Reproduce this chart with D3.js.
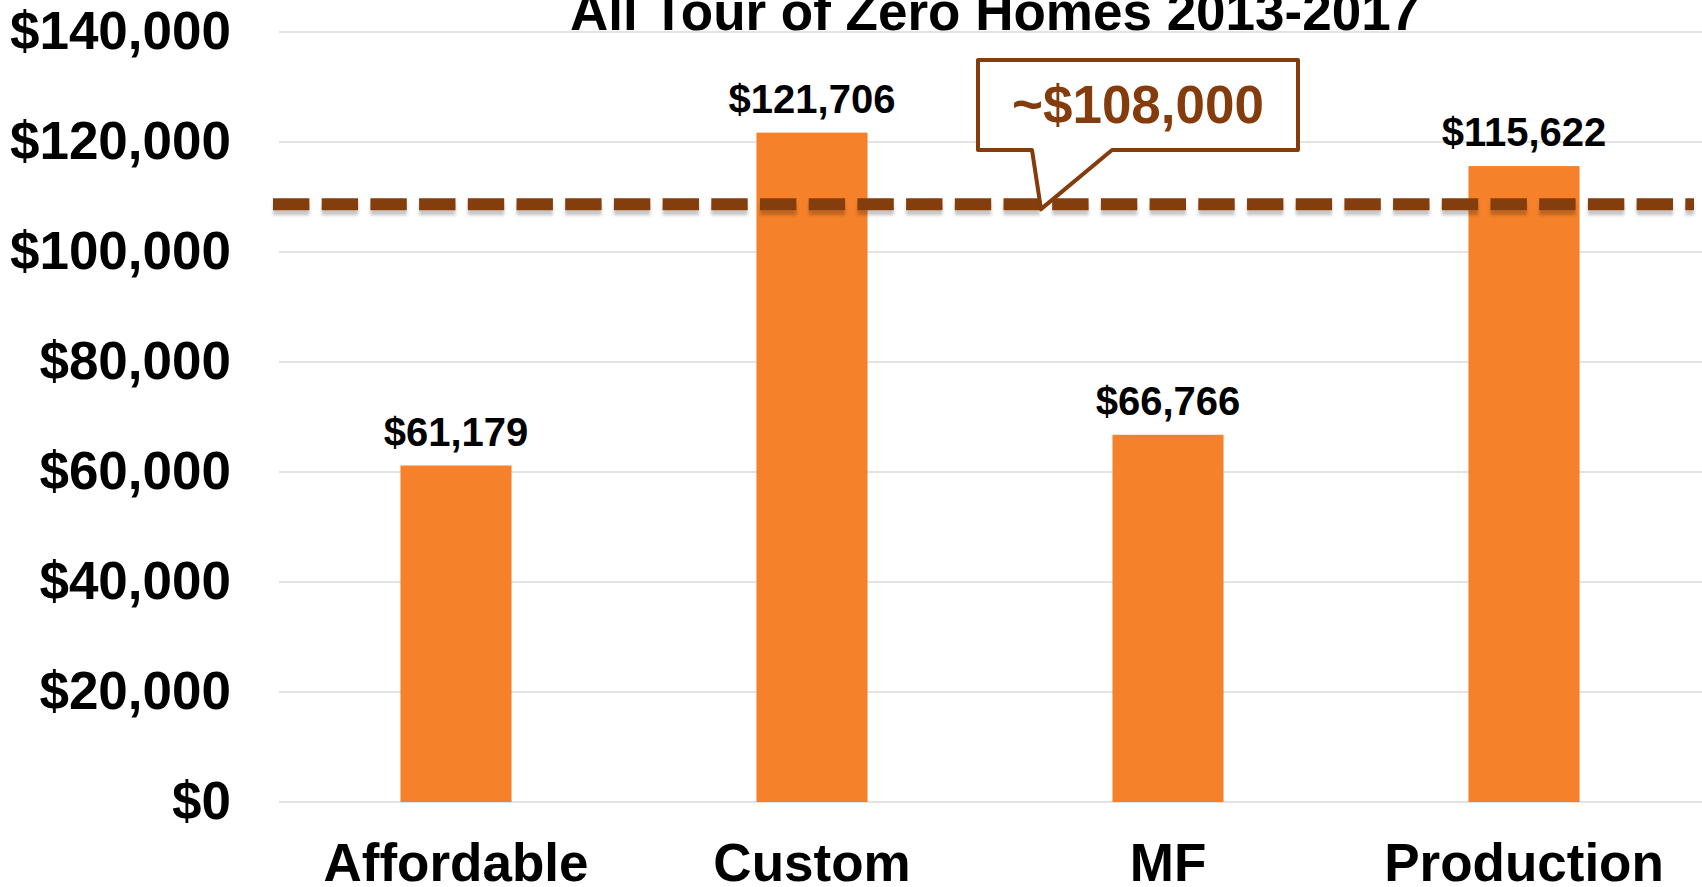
<!DOCTYPE html>
<html>
<head>
<meta charset="utf-8">
<script src="https://cdn.jsdelivr.net/npm/d3@7"></script>
<style>
  html, body { margin: 0; padding: 0; background: #fff; }
  svg { display: block; font-family: "Liberation Sans", Arial, sans-serif; font-weight: bold; }
</style>
</head>
<body>
<svg id="chart" width="1702" height="887"></svg>
<script>
// data
var categories = ['Affordable', 'Custom', 'MF', 'Production'];
var costs = [61179, 121706, 66766, 115622];
var yTicks = [0, 20000, 40000, 60000, 80000, 100000, 120000, 140000];
var averageCost = 108700;
var averageLabel = '~$108,000';
var title = 'All Tour of Zero Homes 2013-2017';

var width = 1702, height = 887;
var barColor = '#F5812A', lineColor = '#843C0C';

var svg = d3.select('#chart');

var x = d3.scaleBand()
    .domain(categories)
    .range([278, 1702])
    .paddingInner(0.688)
    .paddingOuter(0.344);

var y = d3.scaleLinear()
    .domain([0, 140000])
    .range([802, 32]);

var money = function(v) { return '$' + d3.format(',')(v); };

// shadow for the average line (user space, a flat line has no bbox height)
var defs = svg.append('defs');
var shadow = defs.append('filter')
    .attr('id', 'shadow')
    .attr('filterUnits', 'userSpaceOnUse')
    .attr('x', 0).attr('y', 0)
    .attr('width', width).attr('height', height);
shadow.append('feDropShadow')
    .attr('dx', 0).attr('dy', 5)
    .attr('stdDeviation', 1.6)
    .attr('flood-color', '#000')
    .attr('flood-opacity', 0.22);

// gridlines
svg.append('g')
    .selectAll('line')
    .data(yTicks)
    .enter().append('line')
    .attr('x1', 279)
    .attr('x2', width)
    .attr('y1', function(d) { return y(d); })
    .attr('y2', function(d) { return y(d); })
    .attr('stroke', '#e3e3e3')
    .attr('stroke-width', 2);

// y axis labels
var yAxis = svg.append('g')
    .attr('transform', 'translate(231,0)')
    .call(d3.axisLeft(y).tickValues(yTicks).tickSize(0).tickPadding(0).tickFormat(money));
yAxis.select('.domain').remove();
yAxis.selectAll('text')
    .attr('fill', '#000')
    .style('font-size', '53px')
    .style('font-family', '"Liberation Sans", Arial, sans-serif')
    .style('font-weight', 'bold');

// x axis labels
var xAxis = svg.append('g')
    .attr('transform', 'translate(0,802)')
    .call(d3.axisBottom(x).tickSize(0).tickPadding(0));
xAxis.select('.domain').remove();
xAxis.selectAll('text')
    .attr('dy', null)
    .attr('y', 79)
    .attr('fill', '#000')
    .style('font-size', '53px')
    .style('font-family', '"Liberation Sans", Arial, sans-serif')
    .style('font-weight', 'bold');

// bars
svg.append('g')
    .selectAll('rect')
    .data(costs)
    .enter().append('rect')
    .attr('x', function(d, i) { return x(categories[i]); })
    .attr('y', function(d) { return y(d); })
    .attr('width', x.bandwidth())
    .attr('height', function(d) { return y(0) - y(d); })
    .attr('fill', barColor);

// value labels
svg.append('g')
    .selectAll('text')
    .data(costs)
    .enter().append('text')
    .attr('x', function(d, i) { return x(categories[i]) + x.bandwidth() / 2; })
    .attr('y', function(d) { return y(d) - 20; })
    .attr('text-anchor', 'middle')
    .attr('font-size', 40)
    .attr('fill', '#000')
    .text(money);

// average line
var avgY = y(averageCost);
svg.append('line')
    .attr('x1', 273)
    .attr('x2', 1694)
    .attr('y1', avgY)
    .attr('y2', avgY)
    .attr('stroke', lineColor)
    .attr('stroke-width', 12)
    .attr('stroke-dasharray', '36.4 12.3')
    .attr('filter', 'url(#shadow)');

// callout
var box = { left: 978, right: 1298, top: 60, bottom: 150 };
var tipX = 1041, baseL = 1032, baseR = 1112;
var callout = d3.path();
callout.moveTo(box.left, box.top);
callout.lineTo(box.right, box.top);
callout.lineTo(box.right, box.bottom);
callout.lineTo(baseR, box.bottom);
callout.lineTo(tipX, avgY + 5);
callout.lineTo(baseL, box.bottom);
callout.lineTo(box.left, box.bottom);
callout.closePath();

svg.append('path')
    .attr('d', callout.toString())
    .attr('fill', '#fff')
    .attr('stroke', lineColor)
    .attr('stroke-width', 4)
    .attr('stroke-linejoin', 'round');

svg.append('text')
    .attr('x', (box.left + box.right) / 2)
    .attr('y', 123)
    .attr('text-anchor', 'middle')
    .attr('font-size', 53)
    .attr('fill', lineColor)
    .text(averageLabel);

// title, clipped at the top edge
svg.append('text')
    .attr('x', 995)
    .attr('y', 30)
    .attr('text-anchor', 'middle')
    .attr('font-size', 53)
    .attr('fill', '#000')
    .text(title);
</script>
</body>
</html>
